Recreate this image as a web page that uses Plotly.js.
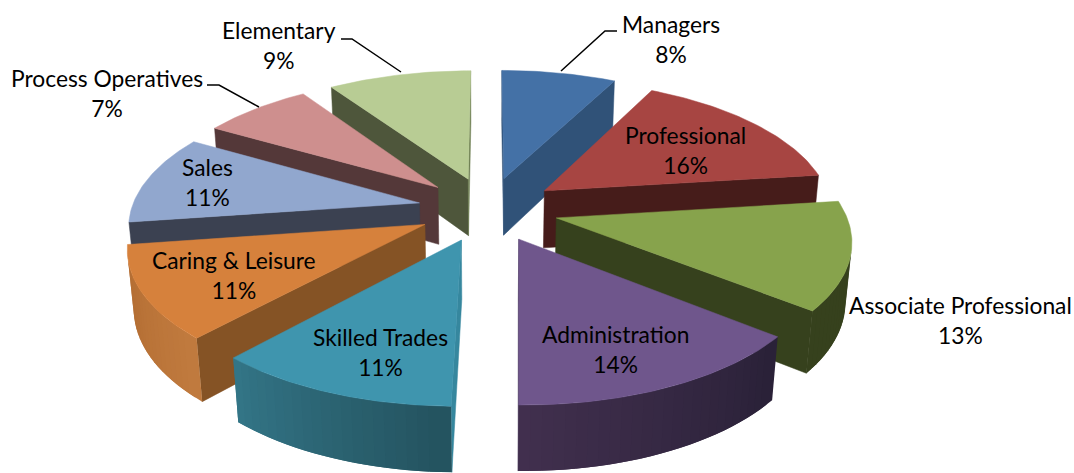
<!DOCTYPE html>
<html><head><meta charset="utf-8">
<script src="https://cdn.plot.ly/plotly-3.0.1.min.js"></script>
<style>html,body{margin:0;padding:0;background:#fff}#c{width:1074px;height:473px}</style>
</head><body><div id="c"></div>
<script>
// ---- data ----
const categories = ["Managers","Professional","Associate Professional","Administration","Skilled Trades","Caring & Leisure","Sales","Process Operatives","Elementary"];
const shares = [7.5,15.5,12.8,14.45,11.45,11,10.7,7.2,9.4];
const percentLabels = ["8%","16%","13%","14%","11%","11%","11%","7%","9%"];

// ---- styles ----
const topColors = ["#4471A6","#A74542","#87A34C","#6F568C","#3F95AE","#D6813C","#91A7CE","#CE8F8E","#B8CC94"];
const radialColors = [["#305278","#305278"],["#461C1A","#461C1A"],["#36411D","#36411D"],["#2C2238","#3F2F50"],["#36879E","#2C6C7E"],["#855325","#855325"],["#3B4151","#3B4151"],["#543839","#543839"],["#4E563B","#6E7F52"]];
const wallFrom = ["#305278","#461C1A","#36411D","#2A2138","#24535F","#C07A3E","#3B4151","#543839","#4E563B"];
const wallTo   = ["#305278","#461C1A","#36411D","#42304F","#347789","#B06A30","#3B4151","#543839","#4E563B"];
// wallFrom is the shade at the slice's clockwise start, wallTo at its end

// ---- projection settings ----
const view = {cx:488, cy:209, R:288, pitch:27.3*Math.PI/180, dist:6.12, explode:0.244, depth:0.23};
const labelCenters = [[671,38.5],[685,149.5],[960,319.5],[615,348.5],[380,351.5],[234,274.5],[207,181.5],[107,92.5],[279,45]];
const leaders = [[[617,605,561],[31,31,71]],[[207,219,259],[85,85,107]],[[341,352,401],[39,39,72]]];

function project(X,Y,Z){
  const w = Y*Math.cos(view.pitch)+Z*Math.sin(view.pitch);
  const h = Z*Math.cos(view.pitch)-Y*Math.sin(view.pitch);
  const s = view.dist/(view.dist-w);
  return [view.cx+view.R*X*s, view.cy-view.R*h*s];
}
function hex(c){return [1,3,5].map(i=>parseInt(c.substr(i,2),16));}
function mix(a,b,t){const A=hex(a),B=hex(b);return 'rgb('+A.map((v,i)=>Math.round(v+(B[i]-v)*t)).join(',')+')';}
function area(p){let s=0;for(let i=0;i<p.length;i++){const q=p[(i+1)%p.length];s+=p[i][0]*q[1]-q[0]*p[i][1];}return s/2;}
function poly(points,color,lw){
  const xs=points.map(p=>p[0]).concat(points[0][0]);
  const ys=points.map(p=>p[1]).concat(points[0][1]);
  return {type:'scatter',mode:'lines',x:xs,y:ys,fill:'toself',fillcolor:color,line:{color:color,width:lw===undefined?0.5:lw},hoverinfo:'skip',showlegend:false};
}
const total = shares.reduce((a,b)=>a+b,0);
let acc=0;
const slices = shares.map((v,i)=>{
  const a0=acc/total*2*Math.PI; acc+=v; const a1=acc/total*2*Math.PI;
  const mid=(a0+a1)/2;
  return {i,a0,a1,ox:view.explode*Math.sin(mid),oy:-view.explode*Math.cos(mid)};
});
const traces=[];
slices.slice().sort((p,q)=>p.oy-q.oy).forEach(s=>{
  const P=(r,a,z)=>project(s.ox+r*Math.sin(a),s.oy-r*Math.cos(a),z);
  const H=-view.depth, n=Math.max(6,Math.round((s.a1-s.a0)*30));
  const w0=[P(0,s.a0,0),P(0,s.a0,H),P(1,s.a0,H),P(1,s.a0,0)];
  const w1=[P(1,s.a1,0),P(1,s.a1,H),P(0,s.a1,H),P(0,s.a1,0)];
  if(area(w0)>0) traces.push(poly(w0,radialColors[s.i][0]));
  if(area(w1)>0) traces.push(poly(w1,radialColors[s.i][1]));
  // outer wall: overlapping strips so no seams show between shades
  for(let k=n-1;k>=0;k--){
    const a=s.a0+(s.a1-s.a0)*k/n, b=s.a0+(s.a1-s.a0)*(k+1)/n;
    const test=[P(1,a,0),P(1,a,H),P(1,b,H),P(1,b,0)];
    if(area(test)>0){
      const ext=[];
      const e=Math.min(s.a1,b+(b-a));
      for(let j=0;j<=6;j++) ext.push(P(1,a+(e-a)*j/6,0));
      for(let j=6;j>=0;j--) ext.push(P(1,a+(e-a)*j/6,H));
      traces.push(poly(ext,mix(wallFrom[s.i],wallTo[s.i],(k+.5)/n),0));
    }
  }
  const top=[P(0,s.a0,0)];
  for(let k=0;k<=n*2;k++) top.push(P(1,s.a0+(s.a1-s.a0)*k/(n*2),0));
  traces.push(poly(top,topColors[s.i]));
});
leaders.forEach(l=>traces.push({type:'scatter',mode:'lines',x:l[0],y:l[1],line:{color:'#000',width:1.5},hoverinfo:'skip',showlegend:false}));
const annotations=categories.map((c,i)=>({x:labelCenters[i][0],y:labelCenters[i][1],xref:'x',yref:'y',showarrow:false,align:'center',
  text:c+'<br>'+percentLabels[i],font:{family:'Lato, Carlito, sans-serif',size:22.8,color:'#000'}}));
Plotly.newPlot('c',traces,{width:1074,height:473,margin:{l:0,r:0,t:0,b:0},paper_bgcolor:'#fff',plot_bgcolor:'#fff',showlegend:false,
  xaxis:{range:[0,1074],visible:false,fixedrange:true},yaxis:{range:[473,0],visible:false,fixedrange:true},annotations},{displayModeBar:false,staticPlot:true});
</script></body></html>
